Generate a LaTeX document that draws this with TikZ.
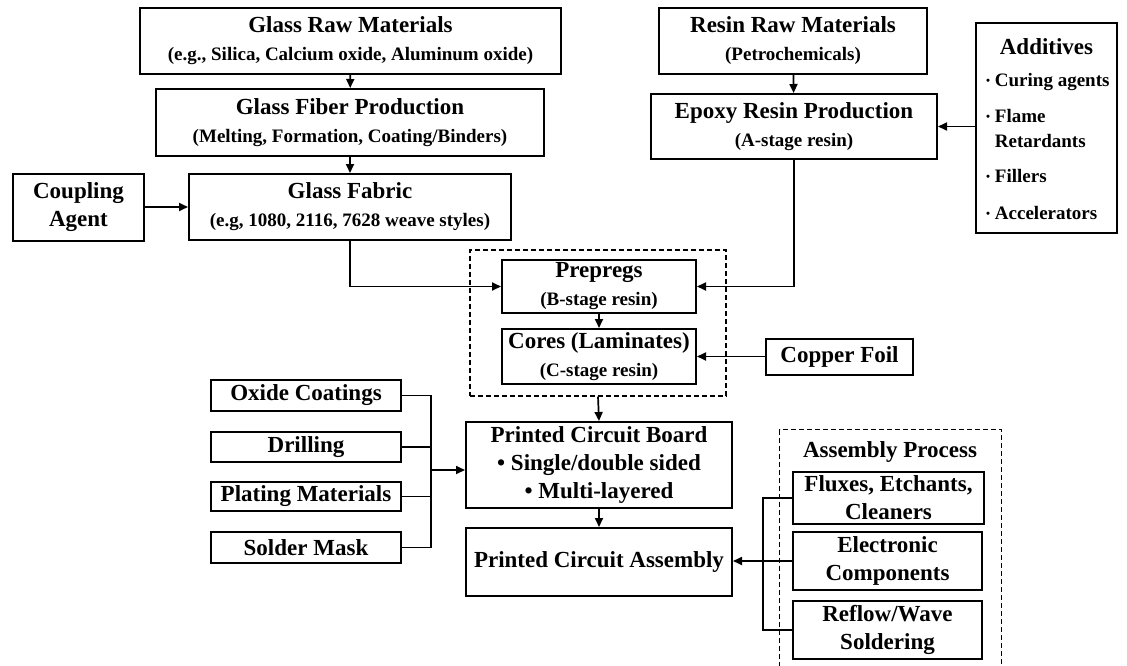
\documentclass[tikz,border=0pt]{standalone}
\usepackage{fontspec}
\setmainfont{Liberation Serif}
\usetikzlibrary{arrows.meta}
\newcommand\tsz{\fontsize{23}{28}\selectfont\bfseries}
\newcommand\ssz{\fontsize{19}{22}\selectfont\bfseries}
\newcommand\isz{\fontsize{19}{22}\selectfont\bfseries}
\newcommand\smbul{\raisebox{0.25ex}{\scalebox{0.6}{\textbullet}}}
\begin{document}
\begin{tikzpicture}[x=1pt,y=-1pt,
  box/.style={draw, line width=2pt, inner sep=0pt, align=center, font=\tsz},
  dbox/.style={draw, line width=1.3pt, dash pattern=on 5pt off 3pt, inner sep=0pt},
  conn/.style={line width=1.7pt},
  arr/.style={conn, -{Triangle[length=9pt,width=8pt]}},
  txt/.style={inner sep=0pt, font=\tsz},
  itm/.style={inner sep=0pt, font=\isz, anchor=west}]
\useasboundingbox (0,0) rectangle (1127,666);
\clip (0,0) rectangle (1127,666);

% glass chain
\node[box, minimum width=421, minimum height=66] (graw) at (350.5,41)
  {Glass Raw Materials\\{\ssz (e.g., Silica, Calcium oxide, Aluminum oxide)}};
\node[box, minimum width=388, minimum height=67] (gfib) at (350,122.5)
  {Glass Fiber Production\\{\ssz (Melting, Formation, Coating/Binders)}};
\node[box, minimum width=322, minimum height=66] (gfab) at (350,207)
  {Glass Fabric\\{\ssz (e.g, 1080, 2116, 7628 weave styles)}};
\node[box, minimum width=131, minimum height=67] (coup) at (78.5,207.5)
  {Coupling\\Agent};

% resin chain
\node[box, minimum width=268, minimum height=66] (rraw) at (793,41)
  {Resin Raw Materials\\{\ssz (Petrochemicals)}};
\node[box, minimum width=286, minimum height=65] (epoxy) at (794,126.5)
  {Epoxy Resin Production\\{\ssz (A-stage resin)}};
\node[box, minimum width=141, minimum height=210] (addit) at (1046.5,128) {};
\node[txt] (additt) at (1046.5,47) {Additives};
\node[itm] (ad1) at (986,82) {\smbul\ Curing agents};
\node[itm] (ad2) at (986,116) {\smbul\ Flame};
\node[itm] (ad3) at (986,141) {\phantom{\smbul\ }Retardants};
\node[itm] (ad4) at (986,176) {\smbul\ Fillers};
\node[itm] (ad5) at (986,213) {\smbul\ Accelerators};

% laminate group
\node[dbox, minimum width=256, minimum height=146] (grp) at (598,323) {};
\node[box, minimum width=194, minimum height=53] (prep) at (599,286.5)
  {Prepregs\\{\ssz (B-stage resin)}};
\node[box, minimum width=194, minimum height=55] (cores) at (599,356.5)
  {Cores (Laminates)\\{\ssz (C-stage resin)}};
\node[box, minimum width=147, minimum height=36] (copper) at (839.5,356.5) {Copper Foil};

% PCB
\node[box, minimum width=266, minimum height=86] (pcb) at (599,465)
  {Printed Circuit Board\\\textbullet\ Single/double sided\\\textbullet\ Multi-layered};
\node[box, minimum width=266, minimum height=68] (pca) at (599,562)
  {Printed Circuit Assembly};

\node[box, minimum width=190, minimum height=31] (oxide) at (306,395.5) {Oxide Coatings};
\node[box, minimum width=190, minimum height=30] (drill) at (306,447) {Drilling};
\node[box, minimum width=190, minimum height=29] (plat) at (306,496.5) {Plating Materials};
\node[box, minimum width=190, minimum height=31] (solder) at (306,547.5) {Solder Mask};
\coordinate (b1) at (431,470);

% assembly process
\node[dbox, minimum width=222, minimum height=260, anchor=north west] (asm) at (779,429) {};
\node[txt] (asmt) at (890,452) {Assembly Process};
\node[box, minimum width=191, minimum height=52] (flux) at (888.5,498)
  {\fontsize{23}{22}\selectfont Fluxes, Etchants,\\Cleaners};
\node[box, minimum width=189, minimum height=58] (elec) at (887.5,561)
  {Electronic\\Components};
\node[box, minimum width=189, minimum height=58] (reflow) at (887.5,630)
  {Reflow/Wave\\Soldering};
\coordinate (b2) at (763,561);

% connectors
\draw[arr] (graw) -- (gfib);
\draw[arr] (gfib) -- (gfab);
\draw[arr] (coup.east |- gfab.west) -- (gfab.west);
\draw[arr] (gfab.south) |- (prep.west);
\draw[arr] (rraw) -- (epoxy);
\draw[arr] (addit.west |- epoxy.east) -- (epoxy.east);
\draw[arr] (epoxy.south) |- (prep.east);
\draw[arr] (prep) -- (cores);
\draw[arr] (copper.west) -- (cores.east);
\draw[arr] (grp.south) -- (pcb.north);
\draw[arr] (pcb) -- (pca);

\draw[conn] (oxide.east) -- (oxide.east -| b1) -- (solder.east -| b1) -- (solder.east);
\draw[conn] (drill.east) -- (drill.east -| b1);
\draw[conn] (plat.east) -- (plat.east -| b1);
\draw[arr] (b1) -- (b1 -| pcb.west);

\draw[conn] (flux.west) -- (flux.west -| b2) -- (reflow.west -| b2) -- (reflow.west);
\draw[conn] (elec.west) -- (b2);
\draw[arr] (b2) -- (b2 -| pca.east);
\end{tikzpicture}
\end{document}
